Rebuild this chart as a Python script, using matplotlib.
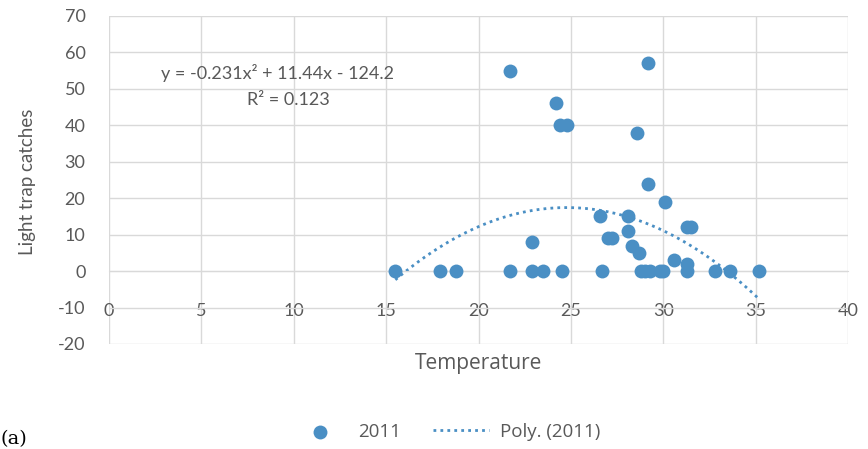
import numpy as np
import matplotlib
matplotlib.use("Agg")
import matplotlib.pyplot as plt

# Data
temperature = [15.5, 17.9, 18.8, 21.7, 21.7, 22.9, 22.9, 23.5, 24.2, 24.4, 24.8, 24.5,
               26.6, 26.7, 27.0, 27.2, 28.1, 28.1, 28.3, 28.6, 28.7, 28.8, 29.0, 29.2,
               29.2, 29.3, 29.8, 30.0, 30.1, 30.6, 31.3, 31.3, 31.3, 31.5, 32.8, 33.6, 35.2]
catches = [0, 0, 0, 55, 0, 8, 0, 0, 46, 40, 40, 0,
           15, 0, 9, 9, 15, 11, 7, 38, 5, 0, 0, 57,
           24, 0, 0, 0, 19, 3, 2, 0, 12, 12, 0, 0, 0]
poly_coeffs = [-0.231, 11.44, -124.2]
x_ticks = [0, 5, 10, 15, 20, 25, 30, 35, 40]
y_ticks = [-20, -10, 0, 10, 20, 30, 40, 50, 60, 70]

blue = "#4a8fc4"
gray_text = "#595959"
grid_c = "#d9d9d9"

plt.rcParams['font.family'] = ['Lato', 'DejaVu Sans']
plt.rcParams['axes.unicode_minus'] = False

fig = plt.figure(figsize=(8.68, 4.49), dpi=100)
ax = fig.add_axes([109/868, 1-344/449, (848-109)/868, (344-16)/449])

ax.set_xlim(0, 40)
ax.set_ylim(-20, 70)
ax.set_xticks(x_ticks)
ax.set_yticks(y_ticks)
ax.grid(True, color=grid_c, linewidth=1)
ax.set_axisbelow(True)
for s in ['top', 'right', 'left']:
    ax.spines[s].set_visible(False)
ax.spines['bottom'].set_position(('data', 0))
ax.spines['bottom'].set_color(grid_c)
ax.tick_params(axis='both', length=0, labelsize=13, colors=gray_text)
ax.tick_params(axis='x', pad=23)
ax.tick_params(axis='y', pad=17)

ax.scatter(temperature, catches, s=100, color=blue, zorder=3, label='2011', linewidths=0)

xs = np.linspace(min(temperature), max(temperature), 200)
ys = np.polyval(poly_coeffs, xs)
ax.plot(xs, ys, linestyle=(0, (1, 1.5)), color=blue, linewidth=2, zorder=2,
        label='Poly. (2011)')

ax.text(9.1, 54.4, "y = -0.231x² + 11.44x - 124.2", ha='center', va='center',
        fontsize=13, color=gray_text)
ax.text(9.7, 47.0, "R² = 0.123", ha='center', va='center', fontsize=13, color=gray_text)

fig.text(479/868, 1-364/449, "Temperature", ha='center', va='center', fontsize=15,
         color=gray_text, family=['Open Sans', 'DejaVu Sans'])
fig.text(28/868, 1-182/449, "Light trap catches", ha='center', va='center', rotation=90,
         fontsize=13.5, color=gray_text)

leg = fig.legend(loc='center', bbox_to_anchor=(446/868, 1-432/449), ncol=2, frameon=False,
                 prop={'family': ['Open Sans', 'DejaVu Sans'], 'size': 13.5},
                 labelcolor=gray_text, handlelength=3.0, columnspacing=1.7,
                 handletextpad=0.55)

fig.text(0.0, 1-448/449, "(a)", family='DejaVu Serif', fontsize=14, ha='left', va='bottom')

fig.savefig("out.png", dpi=100)
